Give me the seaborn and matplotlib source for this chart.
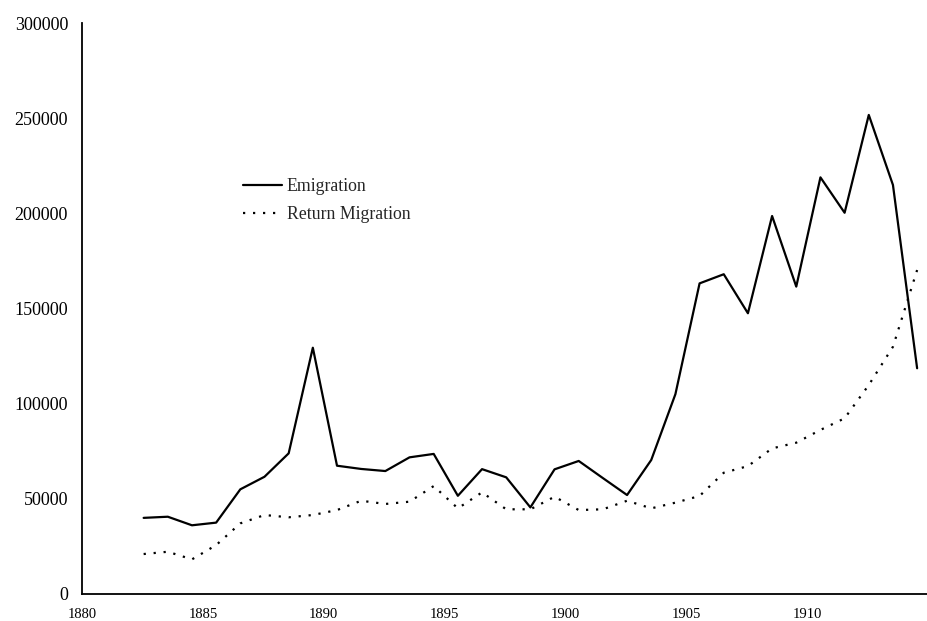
import numpy as np
import pandas as pd
import matplotlib.pyplot as plt
import seaborn as sns

years = list(range(1882, 1915))
emigration = [
    40000, 40600, 36100, 37500, 55000, 61600, 73900, 129400, 67400, 65700,
    64600, 71800, 73600, 51600, 65600, 61300, 45500, 65500, 69900, 60900,
    52000, 70400, 105000, 163200, 168000, 147500, 198600, 161500, 218900, 200300,
    251700, 214900, 118600,
]
return_migration = [
    21000, 22200, 18200, 25700, 37100, 41500, 40300, 41500, 44100, 49000,
    47300, 48500, 56700, 45000, 53400, 44500, 44500, 51100, 44100, 44500,
    49000, 45000, 48000, 51500, 63700, 67200, 76500, 79500, 86200, 92300,
    109800, 129900, 170200,
]
x_ticks = [1880, 1885, 1890, 1895, 1900, 1905, 1910]
y_ticks = [0, 50000, 100000, 150000, 200000, 250000, 300000]

sns.set_theme(style="white")
plt.rcParams["font.family"] = ["Liberation Serif", "DejaVu Serif"]

df = pd.DataFrame({
    # annual figures sit mid-year on the axis
    "year": np.array(years) + 0.55,
    "Emigration": emigration,
    "Return Migration": return_migration,
})

fig = plt.figure(figsize=(9.28, 6.21), dpi=100)
ax = fig.add_axes([82 / 928, 27 / 621, 846 / 928, 571 / 621])

sns.lineplot(data=df, x="year", y="Emigration", ax=ax, color="black",
             linewidth=1.6, label="Emigration")
sns.lineplot(data=df, x="year", y="Return Migration", ax=ax, color="black",
             linewidth=1.6, linestyle=(0, (1, 3.5)), label="Return Migration")

ax.set(xlim=(1880, 1915), ylim=(0, 300000), xlabel="", ylabel="")
ax.set_xticks(x_ticks)
ax.set_yticks(y_ticks)
ax.set_yticklabels([str(v) for v in y_ticks])
ax.tick_params(axis="both", direction="out", width=1, colors="black")
ax.tick_params(axis="y", length=5, pad=5, labelsize=13)
ax.tick_params(axis="x", length=4, pad=6, labelsize=10.5)
for side in ["top", "right"]:
    ax.spines[side].set_visible(False)
for side in ["left", "bottom"]:
    ax.spines[side].set_color("black")
    ax.spines[side].set_linewidth(1.3)

ax.legend(loc="upper left", bbox_to_anchor=(0.19, 0.728), frameon=False,
          fontsize=12.8, handlelength=2.2, handletextpad=0.27,
          labelspacing=0.6, borderpad=0, borderaxespad=0)

fig.savefig("out.png", dpi=100)
plt.close(fig)
